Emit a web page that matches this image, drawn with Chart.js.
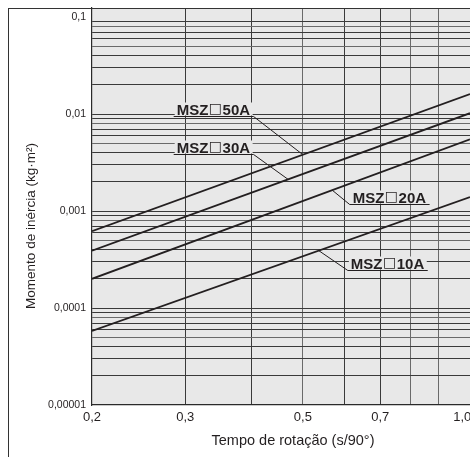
<!DOCTYPE html>
<html>
<head>
<meta charset="utf-8">
<script src="https://cdn.jsdelivr.net/npm/chart.js@4"></script>
<style>
  html, body { margin: 0; padding: 0; background: #fff; }
  #wrap { width: 470px; height: 457px; }
</style>
</head>
<body>
<div id="wrap"><canvas id="graphCanvas" width="470" height="457"></canvas></div>
<script>
// rotation time (s/90°) at the two ends of each line (left edge, right edge of plot)
var durations = [0.2, 1.034];
var seriesNames = ['MSZ□50A', 'MSZ□30A', 'MSZ□20A', 'MSZ□10A'];
var inertia50 = [0.00062, 0.0161];
var inertia30 = [0.00039, 0.0102];
var inertia20 = [0.0002, 0.0055];
var inertia10 = [0.000058, 0.00139];

var xGridValues = [0.2, 0.3, 0.4, 0.5, 0.6, 0.7, 0.8, 0.9, 1.0];
var xLabelValues = [0.2, 0.3, 0.5, 0.7, 1.0];
var xLabelTexts = ['0,2', '0,3', '0,5', '0,7', '1,0'];
var yLabelValues = [0.1, 0.01, 0.001, 0.0001, 0.00001];
var yLabelTexts = ['0,1', '0,01', '0,001', '0,0001', '0,00001'];

// callouts: where the leader touches the line, and where the text sits
var labelAnchorT = [0.5, 0.469, 0.568, 0.536];
var labelTextT = [0.289, 0.289, 0.621, 0.616];
var labelTextI = [0.00954, 0.00387, 0.00118, 0.000247];
var labelSide = ['right', 'right', 'left', 'left'];

var xTitle = 'Tempo de rotação (s/90°)';
var yTitle = 'Momento de inércia (kg·m²)';

var allSeries = [inertia50, inertia30, inertia20, inertia10];
var yGridValues = [];
for (var e = -5; e <= -1; e++) {
  for (var m = 1; m <= 9; m++) {
    var v = parseFloat((m * Math.pow(10, e)).toPrecision(3));
    if (v <= 0.1) yGridValues.push(v);
  }
}

var fontFam = "'Liberation Sans', Arial, Helvetica, sans-serif";
var ink = '#231f20';

function pts(vals) {
  return durations.map(function (t, i) { return { x: t, y: vals[i] }; });
}

function valueAt(vals, t) {
  var l0 = Math.log10(durations[0]), l1 = Math.log10(durations[1]);
  var f = (Math.log10(t) - l0) / (l1 - l0);
  return Math.pow(10, Math.log10(vals[0]) + f * (Math.log10(vals[1]) - Math.log10(vals[0])));
}

function near(a, b) { return Math.abs(a - b) / b < 1e-6; }

// the box glyph is drawn with DejaVu so it gets cap height like the original
var labelFont = 'bold 15px ' + fontFam;
var boxFont = 'bold 14px "DejaVu Sans"';

function labelPieces(name) {
  var k = name.indexOf('□');
  if (k < 0) return [[name, labelFont, 0]];
  return [[name.slice(0, k), labelFont, 0], ['□', boxFont, -1.5], [name.slice(k + 1), labelFont, 0]];
}

var framePlugin = {
  id: 'frame',
  beforeDraw: function (chart) {
    var c = chart.ctx, a = chart.chartArea;
    c.save();
    c.fillStyle = '#fff';
    c.fillRect(0, 0, chart.width, chart.height);
    c.fillStyle = '#e8e8e8';
    c.fillRect(a.left, a.top, a.right - a.left, a.bottom - a.top);
    c.restore();
  },
  afterDraw: function (chart) {
    var c = chart.ctx;
    var xs = chart.scales.x, ys = chart.scales.y;
    c.save();
    // outer frame
    c.strokeStyle = '#333';
    c.lineWidth = 1;
    c.strokeRect(8.5, 8.5, 600, 600);

    // callouts
    c.textBaseline = 'alphabetic';
    seriesNames.forEach(function (name, i) {
      var x0 = xs.getPixelForValue(labelTextT[i]);
      var yU = Math.round(ys.getPixelForValue(labelTextI[i])) + 0.5;
      var pieces = labelPieces(name);
      var w = 0;
      pieces.forEach(function (p) { c.font = p[1]; w += c.measureText(p[0]).width + 0.5; });
      c.fillStyle = '#e8e8e8';
      c.fillRect(x0 - 2, yU - 14, w + 4, 13);
      c.fillStyle = ink;
      var cx = x0;
      pieces.forEach(function (p) {
        c.font = p[1];
        c.fillText(p[0], cx, yU - 2 + p[2]);
        cx += c.measureText(p[0]).width + 0.5;
      });
      c.strokeStyle = ink;
      c.lineWidth = 1;
      c.beginPath();
      c.moveTo(x0 - 3, yU);
      c.lineTo(x0 + w + 3, yU);
      var sx = labelSide[i] === 'right' ? x0 + w + 3 : x0 - 3;
      var ax = xs.getPixelForValue(labelAnchorT[i]);
      var ay = ys.getPixelForValue(valueAt(allSeries[i], labelAnchorT[i]));
      c.moveTo(sx, yU);
      c.lineTo(ax, ay);
      c.stroke();
    });

    // axis titles
    c.fillStyle = ink;
    c.font = '14.5px ' + fontFam;
    c.textAlign = 'center';
    c.textBaseline = 'middle';
    c.fillText(xTitle, 293, 441);
    c.translate(31, 226);
    c.rotate(-Math.PI / 2);
    c.font = '13.5px ' + fontFam;
    c.fillText(yTitle, 0, 0);
    c.restore();
  }
};

var chartdata = {
  datasets: seriesNames.map(function (name, i) {
    return {
      label: name,
      data: pts(allSeries[i]),
      borderColor: ink,
      borderWidth: 1.8,
      pointRadius: 0,
      fill: false,
      tension: 0
    };
  })
};

new Chart(document.getElementById('graphCanvas'), {
  type: 'line',
  data: chartdata,
  plugins: [framePlugin],
  options: {
    responsive: false,
    animation: false,
    devicePixelRatio: 1,
    layout: { padding: { top: 8, left: 0, right: 0, bottom: 0 } },
    plugins: { legend: { display: false }, tooltip: { enabled: false } },
    scales: {
      x: {
        type: 'logarithmic',
        min: 0.2,
        max: 1.034,
        afterBuildTicks: function (s) {
          s.ticks = xGridValues.map(function (v) { return { value: v }; });
        },
        afterFit: function (s) {
          s.height = 52;
          s.paddingLeft = 0; s.paddingRight = 0;
        },
        ticks: {
          autoSkip: false,
          maxRotation: 0,
          padding: 5,
          color: ink,
          font: { family: fontFam, size: 13 },
          callback: function (value) {
            for (var i = 0; i < xLabelValues.length; i++) {
              if (near(value, xLabelValues[i])) return xLabelTexts[i];
            }
            return '';
          }
        },
        grid: {
          drawTicks: false,
          lineWidth: 1,
          color: function (ctx) {
            var v = ctx.tick && ctx.tick.value;
            if (near(v, 1.0) || near(v, 0.2)) return 'rgba(0,0,0,0)';
            if (near(v, 0.8) || near(v, 0.9) || near(v, 0.5)) return '#6a6a6a';
            return '#3a3a3a';
          }
        },
        border: { display: true, color: '#2a2a2a', width: 1.2 }
      },
      y: {
        type: 'logarithmic',
        min: 0.00001,
        max: 0.124,
        afterBuildTicks: function (s) {
          s.ticks = yGridValues.map(function (v) { return { value: v }; });
        },
        afterFit: function (s) {
          s.width = 92;
          s.paddingTop = 0; s.paddingBottom = 0;
        },
        ticks: {
          autoSkip: false,
          padding: 6,
          color: ink,
          font: { family: fontFam, size: 10.5 },
          callback: function (value) {
            for (var i = 0; i < yLabelValues.length; i++) {
              if (near(value, yLabelValues[i])) return yLabelTexts[i];
            }
            return '';
          }
        },
        grid: {
          drawTicks: false,
          lineWidth: 1,
          color: function (ctx) {
            var v = ctx.tick && ctx.tick.value;
            if (near(v, 0.1) || near(v, 0.00001)) return 'rgba(0,0,0,0)';
            var mant = Math.round(v / Math.pow(10, Math.floor(Math.log10(v) + 1e-9)));
            if (mant === 5 || mant === 8) return '#6a6a6a';
            return '#3a3a3a';
          }
        },
        border: { display: true, color: '#2a2a2a', width: 1.2 }
      }
    }
  }
});
</script>
</body>
</html>
